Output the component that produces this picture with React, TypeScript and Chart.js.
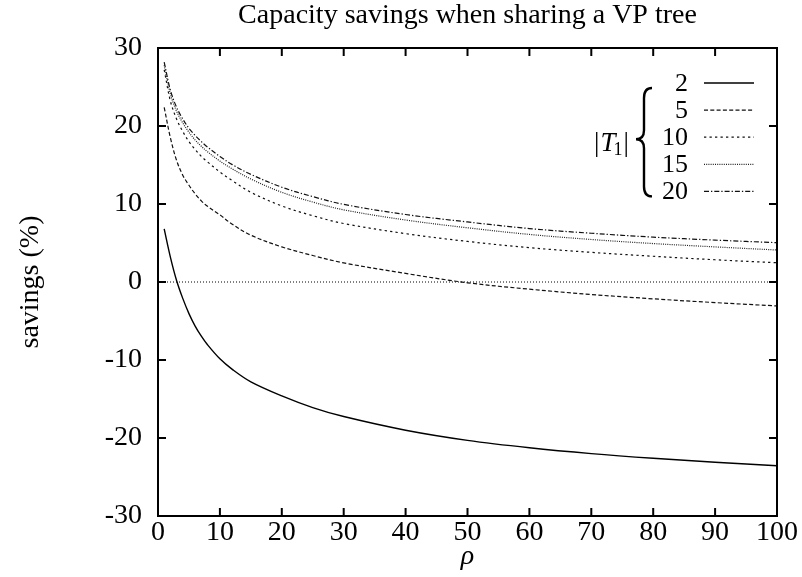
import React, { useEffect, useRef } from "react";
import { Chart, registerables } from "chart.js";

Chart.register(...registerables);

// ---- data ----
const rho = [1, 2, 3, 4, 5, 6, 7, 8, 10, 12, 15, 20, 25, 30, 40, 50, 60, 70, 80, 90, 100];
const t1Size2 = [6.8, 3.2, 0.2, -2.1, -4.05, -5.65, -6.95, -8.05, -9.85, -11.2, -12.8, -14.6, -16.1, -17.25, -19.0, -20.3, -21.25, -22.0, -22.6, -23.1, -23.55];
const t1Size5 = [22.4, 18.5, 15.6, 13.7, 12.4, 11.3, 10.4, 9.7, 8.6, 7.4, 6.0, 4.5, 3.4, 2.45, 1.1, -0.1, -0.92, -1.6, -2.16, -2.64, -3.07];
const t1Size10 = [27.2, 23.2, 20.9, 19.3, 18.0, 17.0, 16.1, 15.4, 14.1, 13.0, 11.5, 9.75, 8.5, 7.5, 6.2, 5.2, 4.4, 3.8, 3.3, 2.85, 2.47];
const t1Size15 = [27.8, 24.1, 21.9, 20.4, 19.2, 18.2, 17.4, 16.7, 15.5, 14.5, 13.2, 11.5, 10.25, 9.25, 7.95, 6.95, 6.1, 5.45, 4.93, 4.5, 4.1];
const t1Size20 = [28.2, 24.6, 22.4, 20.9, 19.7, 18.8, 18.0, 17.3, 16.1, 15.05, 13.8, 12.15, 10.95, 9.95, 8.65, 7.7, 6.85, 6.25, 5.75, 5.37, 5.04];
const seriesLabels = ["2", "5", "10", "15", "20"];
const zeroLineX = [0, 100];
const zeroLineY = [0, 0];

const titleText = "Capacity savings when sharing a VP tree";
const yTitle = "savings (%)";
const xTitle = "\u03C1";
const xMin = 0, xMax = 100, xStep = 10;
const yMin = -30, yMax = 30, yStep = 10;

const FONT = '"Liberation Serif", "Times New Roman", Times, serif';
const FS = 28;

const seriesValues = [t1Size2, t1Size5, t1Size10, t1Size15, t1Size20];
const seriesDash: number[][] = [[], [4, 2.3], [2.3, 3.2], [1, 1.2], [5, 2, 1.3, 2]];
const seriesWidth = [1.4, 1.2, 1.2, 1.2, 1.2];
const seriesColor = ["#000", "#111", "#111", "#222", "#111"];

const framePlugin = {
  id: "gnuFrame",
  afterDatasetsDraw(chart: any) {
    const { ctx, chartArea: a, scales } = chart;
    ctx.save();
    // frame
    ctx.strokeStyle = "#000";
    ctx.lineWidth = 2;
    ctx.setLineDash([]);
    ctx.strokeRect(a.left, a.top, a.right - a.left, a.bottom - a.top);
    // inward ticks (mirrored)
    const tl = 8;
    ctx.beginPath();
    scales.x.ticks.forEach((t: any) => {
      const px = scales.x.getPixelForValue(t.value);
      ctx.moveTo(px, a.bottom);
      ctx.lineTo(px, a.bottom - tl);
      ctx.moveTo(px, a.top);
      ctx.lineTo(px, a.top + tl);
    });
    scales.y.ticks.forEach((t: any) => {
      const py = scales.y.getPixelForValue(t.value);
      ctx.moveTo(a.left, py);
      ctx.lineTo(a.left + tl, py);
      ctx.moveTo(a.right, py);
      ctx.lineTo(a.right - tl, py);
    });
    ctx.stroke();

    // title
    ctx.fillStyle = "#000";
    ctx.font = `${FS}px ${FONT}`;
    ctx.textAlign = "center";
    ctx.textBaseline = "middle";
    ctx.fillText(titleText, (a.left + a.right) / 2, 16);

    // legend
    const numRight = a.right - 89;
    const lineL = a.right - 73;
    const lineR = a.right - 23;
    const rowY = (i: number) => a.top + 35 + i * 27.1;
    chart.data.datasets.forEach((ds: any, i: number) => {
      if (i >= seriesLabels.length) return;
      const y = rowY(i);
      ctx.textAlign = "right";
      ctx.textBaseline = "middle";
      ctx.font = `${FS - 2}px ${FONT}`;
      ctx.fillStyle = "#000";
      ctx.fillText(seriesLabels[i], numRight, y + 1);
      ctx.beginPath();
      ctx.setLineDash(seriesDash[i]);
      ctx.lineWidth = seriesWidth[i];
      ctx.strokeStyle = seriesColor[i];
      ctx.moveTo(lineL, y);
      ctx.lineTo(lineR, y);
      ctx.stroke();
    });
    ctx.setLineDash([]);

    // brace
    const y1 = rowY(0) + 5;
    const y2 = rowY(4) + 5;
    const ym = (y1 + y2) / 2 - 3;
    const stem = a.right - 133;
    const tip = a.right - 141;
    const end = a.right - 125;
    ctx.strokeStyle = "#000";
    ctx.lineWidth = 2.4;
    ctx.beginPath();
    ctx.moveTo(end, y1);
    ctx.quadraticCurveTo(stem, y1, stem, y1 + 10);
    ctx.lineTo(stem, ym - 9);
    ctx.quadraticCurveTo(stem, ym, tip, ym);
    ctx.quadraticCurveTo(stem, ym, stem, ym + 9);
    ctx.lineTo(stem, y2 - 10);
    ctx.quadraticCurveTo(stem, y2, end, y2);
    ctx.stroke();

    // |T1| label
    const base = ym + 12;
    let x = a.right - 183;
    ctx.fillStyle = "#000";
    ctx.textAlign = "left";
    ctx.textBaseline = "alphabetic";
    ctx.font = `${FS - 1}px ${FONT}`;
    ctx.fillText("|", x, base);
    x += ctx.measureText("|").width + 1;
    ctx.font = `italic ${FS - 1}px ${FONT}`;
    ctx.fillText("T", x, base);
    x += ctx.measureText("T").width - 2;
    ctx.font = `18px ${FONT}`;
    ctx.fillText("1", x, base + 4);
    x += ctx.measureText("1").width + 1;
    ctx.font = `${FS - 1}px ${FONT}`;
    ctx.fillText("|", x, base);
    ctx.restore();
  },
};

export default function App() {
  const ref = useRef<HTMLCanvasElement | null>(null);
  useEffect(() => {
    if (!ref.current) return;
    const datasets: any[] = seriesValues.map((vals, i) => ({
      label: seriesLabels[i],
      data: rho.map((r, j) => ({ x: r, y: vals[j] })),
      borderColor: seriesColor[i],
      borderWidth: seriesWidth[i],
      borderDash: seriesDash[i],
      pointRadius: 0,
      fill: false,
      tension: 0.35,
    }));
    datasets.push({
      label: "zero",
      data: zeroLineX.map((x, j) => ({ x, y: zeroLineY[j] })),
      borderColor: "#000",
      borderWidth: 1,
      borderDash: [1, 2],
      pointRadius: 0,
      fill: false,
    });
    const chart = new Chart(ref.current, {
      type: "line",
      data: { datasets },
      options: {
        animation: false,
        responsive: false,
        devicePixelRatio: 1,
        layout: { padding: { left: 0, top: 48, right: 25, bottom: 0 } },
        plugins: { legend: { display: false }, title: { display: false }, tooltip: { enabled: false } },
        scales: {
          x: {
            type: "linear",
            min: xMin,
            max: xMax,
            grid: { display: false, drawTicks: false },
            border: { display: false },
            ticks: {
              stepSize: xStep,
              color: "#000",
              padding: 0,
              maxRotation: 0,
              font: { family: FONT, size: FS },
              callback: (v: any) => String(v),
            },
            title: {
              display: true,
              text: xTitle,
              color: "#000",
              padding: { top: 0, bottom: 4 },
              font: { family: FONT, size: FS, style: "italic" },
            },
            afterFit: (s: any) => {
              s.height = 61;
            },
          },
          y: {
            type: "linear",
            min: yMin,
            max: yMax,
            grid: { display: false, drawTicks: false },
            border: { display: false },
            ticks: {
              stepSize: yStep,
              color: "#000",
              padding: 16,
              font: { family: FONT, size: FS },
              callback: (v: any) => String(v),
            },
            title: {
              display: true,
              text: yTitle,
              color: "#000",
              padding: { top: 14, bottom: 0 },
              font: { family: FONT, size: FS },
            },
            afterFit: (s: any) => {
              s.width = 158;
            },
          },
        },
      },
      plugins: [framePlugin],
    });
    return () => chart.destroy();
  }, []);
  return (
    <div style={{ position: "absolute", left: 0, top: 0, width: 802, height: 577, background: "#fff" }}>
      <canvas ref={ref} width={802} height={577} style={{ display: "block", width: 802, height: 577 }} />
    </div>
  );
}
